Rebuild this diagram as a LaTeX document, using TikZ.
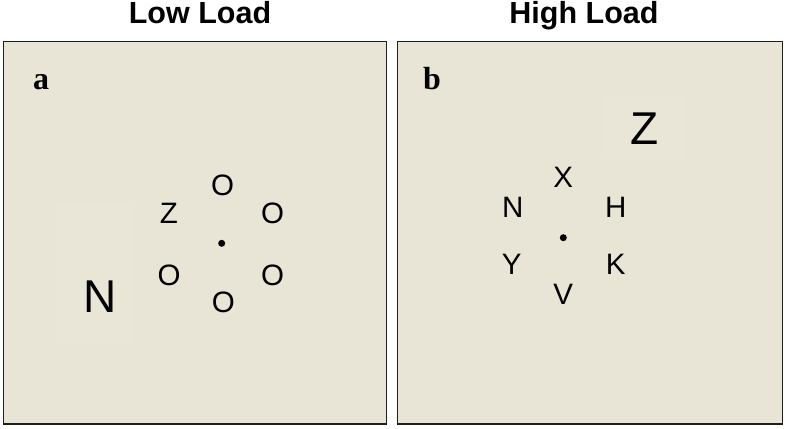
\documentclass[tikz,border=0pt]{standalone}
\usepackage{fontspec}
\setmainfont{Liberation Sans}
\newfontfamily\serifb{Liberation Serif}
\definecolor{panelbg}{HTML}{E8E4D6}
\definecolor{faintbg}{HTML}{E9E6D8}
\definecolor{edge}{HTML}{1E1E1E}
\tikzset{
  panel/.style={draw=edge, line width=1.9pt, fill=panelbg},
  faint/.style={fill=faintbg, draw=none},
  title/.style={font=\fontsize{30.5}{30.5}\selectfont\bfseries, anchor=base, inner sep=0pt},
  plabel/.style={font=\serifb\fontsize{32}{32}\selectfont\bfseries, anchor=base west, inner sep=0pt},
  lett/.style={font=\fontsize{29.5}{29.5}\selectfont, inner sep=0pt, anchor=center},
  biglett/.style={font=\fontsize{46}{46}\selectfont, inner sep=0pt, anchor=center},
  fix/.style={circle, fill=black, inner sep=0pt, minimum size=7pt}
}
\begin{document}
\begin{tikzpicture}[x=1pt,y=-1pt]
\useasboundingbox (0,0) rectangle (786,428);
\fill[white] (0,0) rectangle (786,428);
% titles
\node[title] (t1) at (200,24) {Low Load};
\node[title] (t2) at (584,24) {High Load};
% panels
\draw[panel] (3.5,41.5) rectangle (386.5,424);
\draw[panel] (397.5,41.5) rectangle (782.5,424);
% faint patches
\fill[faint] (55,203) rectangle (131.5,345);
\fill[faint] (605,97) rectangle (685,158);
% panel labels
\node[plabel] (la) at (33,89) {a};
\node[plabel] (lb) at (423,89) {b};
% low load
\node[fix] (fa) at (221.7,243.3) {};
\node[lett] (a1) at (222.5,185.5) {O};
\node[lett] (a2) at (272.7,213.7) {O};
\node[lett] (a3) at (272.7,275) {O};
\node[lett] (a4) at (223.3,302.7) {O};
\node[lett] (a5) at (169,275) {O};
\node[lett] (a6) at (168.8,213.7) {Z};
\node[biglett] (da) at (100,296.3) {N};
% high load
\node[fix] (fb) at (563.3,237.7) {};
\node[lett] (b1) at (563.3,177) {X};
\node[lett] (b2) at (615.7,207) {H};
\node[lett] (b3) at (615.7,264.3) {K};
\node[lett] (b4) at (563.3,294) {V};
\node[lett] (b5) at (511.7,264.3) {Y};
\node[lett] (b6) at (512.7,207) {N};
\node[biglett] (db) at (645,128.3) {Z};
\end{tikzpicture}
\end{document}
